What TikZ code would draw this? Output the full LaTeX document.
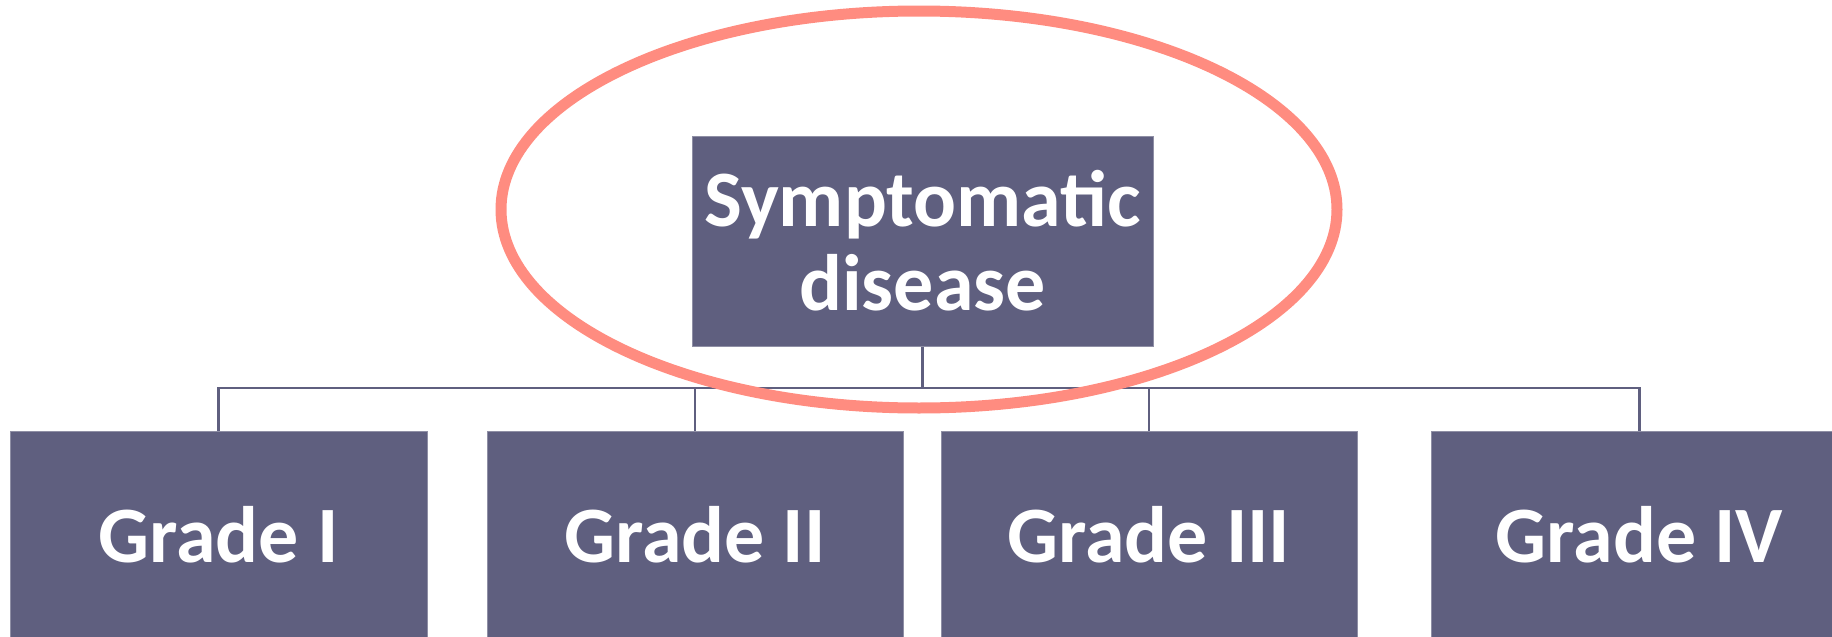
\documentclass[tikz,border=0pt]{standalone}
\usepackage{fontspec}
\setmainfont{Carlito}
\usetikzlibrary{shapes.geometric}
\definecolor{boxfill}{HTML}{5F5F7F}
\definecolor{ringcol}{HTML}{FF8C80}
\tikzset{
  gbox/.style={rectangle, fill=boxfill, draw=boxfill!70!white, line width=1pt, inner sep=0pt,
    text=white, font=\bfseries\fontsize{80}{86}\selectfont, align=center},
  link/.style={draw=boxfill, line width=2.5pt}
}
\begin{document}
\begin{tikzpicture}[x=1pt,y=-1pt]
\useasboundingbox (0,0) rectangle (1832,637);
\node[gbox, minimum width=461pt, minimum height=210pt] (top) at (922.5,241) {Symptomatic\\[-2pt]disease};
\node[gbox, minimum width=417pt, minimum height=214pt] (g1) at (218.5,538) {\raisebox{7pt}{Grade I}};
\node[gbox, minimum width=416pt, minimum height=214pt] (g2) at (695,538) {\raisebox{7pt}{Grade II}};
\node[gbox, minimum width=416pt, minimum height=214pt] (g3) at (1149,538) {\raisebox{7pt}{Grade III}};
\node[gbox, minimum width=417pt, minimum height=214pt] (g4) at (1639.5,538) {\raisebox{7pt}{Grade IV}};
\coordinate (bar) at (0,388);
\draw[link] (top.south) -- (top.south |- bar) -| (g1.north);
\draw[link] (top.south |- bar) -| (g2.north);
\draw[link] (top.south |- bar) -| (g3.north);
\draw[link] (top.south |- bar) -| (g4.north);
\node[ellipse, draw=ringcol, line width=11pt, inner sep=0pt, minimum width=836pt, minimum height=397pt] (ring) at (919,209.5) {};
\end{tikzpicture}
\end{document}
